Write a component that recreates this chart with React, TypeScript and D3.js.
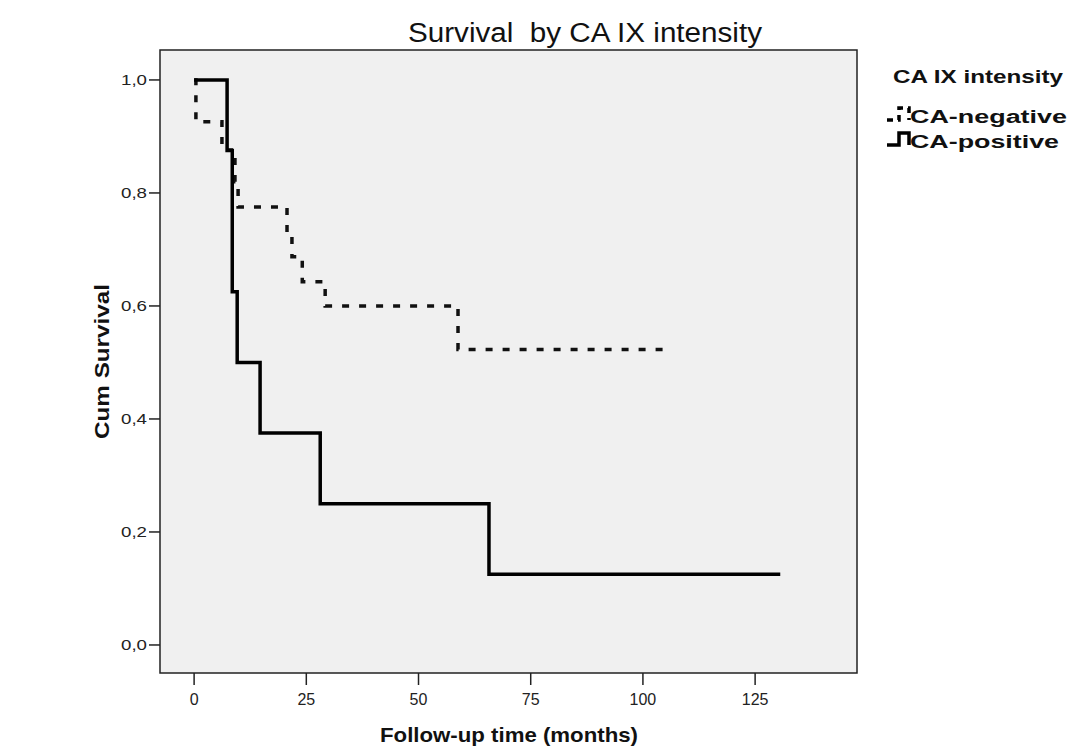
import React from 'react';
import * as d3 from 'd3';

// Kaplan-Meier steps (months, cumulative survival)
const negTimes = [0, 0.4, 6.2, 9.1, 9.8, 20.7, 21.8, 24.1, 29.2, 58.8, 105.6];
const negSurv = [1, 0.926, 0.876, 0.82, 0.775, 0.73, 0.687, 0.643, 0.6, 0.523, 0.523];
const posTimes = [0, 7.35, 8.5, 9.6, 14.7, 28.1, 65.7, 130.6];
const posSurv = [1, 0.875, 0.625, 0.5, 0.375, 0.25, 0.125, 0.125];

const xTicks = [0, 25, 50, 75, 100, 125];
const yTicks = [0, 0.2, 0.4, 0.6, 0.8, 1.0];
const groups = ['CA-negative', 'CA-positive'];

const W = 1070;
const H = 752;
const plot = { left: 160, right: 857, top: 50, bottom: 673 };
const font = '"Liberation Sans", Arial, sans-serif';

export default function App() {
  const x = d3.scaleLinear().domain([-7.6, 147.7]).range([plot.left, plot.right]);
  const y = d3.scaleLinear().domain([-0.0496, 1.053]).range([plot.bottom, plot.top]);

  const step = d3
    .line<[number, number]>()
    .x((d) => x(d[0]))
    .y((d) => y(d[1]))
    .curve(d3.curveStepAfter);

  const neg = negTimes.map((t, i) => [t, negSurv[i]] as [number, number]);
  const pos = posTimes.map((t, i) => [t, posSurv[i]] as [number, number]);
  const fmt = (v: number) => d3.format('.1f')(v).replace('.', ',');

  // little step glyph for the legend
  const glyph = d3.line<[number, number]>().curve(d3.curveStepAfter);
  const glyphPts: [number, number][] = [
    [0, 12],
    [12, 0],
    [22, 12],
    [22, 12],
  ];

  return (
    <svg
      width={W}
      height={H}
      style={{ position: 'absolute', left: 0, top: 0, background: '#fff' }}
      fontFamily={font}
    >
      <text x={585} y={42} fontSize={27} textAnchor="middle" textLength={354} lengthAdjust="spacingAndGlyphs" fill="#111">
        {'Survival\u00a0 by CA IX intensity'}
      </text>

      <rect
        x={plot.left}
        y={plot.top}
        width={plot.right - plot.left}
        height={plot.bottom - plot.top}
        fill="#f0f0f0"
        stroke="#222"
        strokeWidth={1.5}
      />

      {yTicks.map((t) => (
        <g key={'y' + t}>
          <line x1={plot.left - 11} x2={plot.left} y1={y(t)} y2={y(t)} stroke="#222" strokeWidth={1.5} />
          <text x={plot.left - 13} y={y(t)} dy="0.35em" fontSize={15} textAnchor="end" textLength={26} lengthAdjust="spacingAndGlyphs" fill="#222">
            {fmt(t)}
          </text>
        </g>
      ))}

      {xTicks.map((t) => (
        <g key={'x' + t}>
          <line x1={x(t)} x2={x(t)} y1={plot.bottom} y2={plot.bottom + 12} stroke="#222" strokeWidth={1.5} />
          <text x={x(t)} y={plot.bottom + 26} dy="0.35em" fontSize={16} textAnchor="middle" fill="#222">
            {t}
          </text>
        </g>
      ))}

      <text
        transform={`translate(109,${(plot.top + plot.bottom) / 2}) rotate(-90)`}
        fontSize={21}
        fontWeight="bold"
        textAnchor="middle"
        textLength={155}
        lengthAdjust="spacingAndGlyphs"
        fill="#111"
      >
        Cum Survival
      </text>
      <text x={509} y={742} fontSize={21} fontWeight="bold" textAnchor="middle" textLength={258} lengthAdjust="spacingAndGlyphs" fill="#111">
        Follow-up time (months)
      </text>

      <path d={step(neg) || ''} fill="none" stroke="#111" strokeWidth={3.5} strokeDasharray="7,10" />
      <path d={step(pos) || ''} fill="none" stroke="#000" strokeWidth={3.5} />

      <g>
        <text x={893} y={83} fontSize={18} fontWeight="bold" textLength={170} lengthAdjust="spacingAndGlyphs" fill="#111">
          CA IX intensity
        </text>
        {groups.map((g, i) => (
          <g key={g} transform={`translate(887,${108 + i * 25})`}>
            <path
              d={glyph(glyphPts) || ''}
              fill="none"
              stroke="#000"
              strokeWidth={3.5}
              strokeDasharray={i === 0 ? '6,5' : undefined}
            />
            <text x={23} y={15} fontSize={18} fontWeight="bold" textLength={i === 0 ? 157 : 149} lengthAdjust="spacingAndGlyphs" fill="#111">
              {g}
            </text>
          </g>
        ))}
      </g>
    </svg>
  );
}
